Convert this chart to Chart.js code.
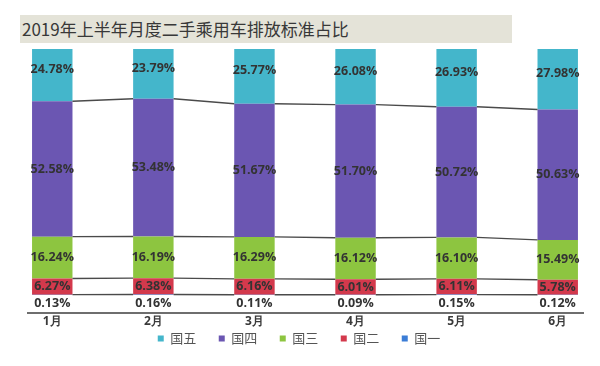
<!DOCTYPE html>
<html>
<head>
<meta charset="utf-8">
<script src="https://cdn.jsdelivr.net/npm/chart.js@4"></script>
<style>
  body { margin: 0; background: #fff; }
  #wrap { position: relative; width: 600px; height: 366px; }
  #title {
    position: absolute; left: 20px; top: 15px; width: 490px; height: 28px;
    padding-left: 2px; background: #e4e3d8; color: #383838;
    font: 17px "Noto Sans CJK SC", sans-serif; line-height: 28px;
  }
  canvas { position: absolute; left: 0; top: 0; }
</style>
</head>
<body>
<div id="wrap">
  <canvas id="c" width="600" height="366"></canvas>
  <div id="title">2019年上半年月度二手乘用车排放标准占比</div>
</div>
<script>
const months = ['1月', '2月', '3月', '4月', '5月', '6月'];
const guo5 = [24.78, 23.79, 25.77, 26.08, 26.93, 27.98];
const guo4 = [52.58, 53.48, 51.67, 51.70, 50.72, 50.63];
const guo3 = [16.24, 16.19, 16.29, 16.12, 16.10, 15.49];
const guo2 = [6.27, 6.38, 6.16, 6.01, 6.11, 5.78];
const guo1 = [0.13, 0.16, 0.11, 0.09, 0.15, 0.12];

(() => {
    const toPoints = arr => arr.map((v, i) => ({x: i, y: v}));

    // bottom to top
    const series = [
        {label: '国一', data: guo1, color: '#3b7dd6'},
        {label: '国二', data: guo2, color: '#d3394c'},
        {label: '国三', data: guo3, color: '#8dc540'},
        {label: '国四', data: guo4, color: '#6b56b2'},
        {label: '国五', data: guo5, color: '#44b6cb'}
    ];

    // Excel-like series lines + value labels
    const segLabels = {
        id: 'segLabels',
        afterLayout(chart) {
            // pull the legend row up closer to the axis labels
            chart.legend.top -= 9;
            chart.legend.bottom -= 9;
        },
        afterDatasetsDraw(chart) {
            const ctx = chart.ctx;
            const sets = chart.data.datasets;
            ctx.save();
            ctx.strokeStyle = '#4a4a4a';
            ctx.lineWidth = 1.4;
            for (let d = 0; d < sets.length - 1; d++) {
                const bars = chart.getDatasetMeta(d).data;
                for (let i = 0; i < bars.length - 1; i++) {
                    const a = bars[i], b = bars[i + 1];
                    ctx.beginPath();
                    ctx.moveTo(a.x + a.width / 2, a.y);
                    ctx.lineTo(b.x - b.width / 2, b.y);
                    ctx.stroke();
                }
            }
            ctx.font = 'bold 12.5px "Open Sans"';
            ctx.fillStyle = '#333';
            ctx.textAlign = 'center';
            ctx.textBaseline = 'middle';
            sets.forEach((ds, d) => {
                chart.getDatasetMeta(d).data.forEach((bar, i) => {
                    const txt = ds.data[i].y.toFixed(2) + '%';
                    const y = d === 0 ? bar.base + 8 : (bar.y + bar.base) / 2;
                    ctx.fillText(txt, bar.x, y);
                });
            });
            ctx.restore();
        }
    };

    new Chart(document.getElementById('c'), {
        type: 'bar',
        data: {
            datasets: series.map(s => ({
                label: s.label,
                data: toPoints(s.data),
                backgroundColor: s.color,
                borderWidth: 0,
                categoryPercentage: 1,
                barPercentage: 0.4,
                clip: 0
            }))
        },
        options: {
            responsive: false,
            animation: false,
            layout: {padding: {top: 49, left: 28, right: 17, bottom: 2}},
            scales: {
                x: {
                    type: 'linear',
                    stacked: true,
                    offset: false,
                    min: -0.24,
                    max: 5.25,
                    afterBuildTicks: axis => { axis.ticks = months.map((m, i) => ({value: i})); },
                    grid: {display: false, drawTicks: false, offset: false},
                    border: {display: true, color: '#6e6e6e', width: 2},
                    ticks: {
                        autoSkip: false,
                        maxRotation: 0,
                        padding: 8.5,
                        color: '#3a3a3a',
                        font: {family: '"Open Sans"', size: 12, weight: 'bold', lineHeight: '2px'},
                        callback: v => months[v]
                    }
                },
                y: {
                    stacked: true,
                    display: false,
                    min: -6.8,
                    max: 95.5
                }
            },
            plugins: {
                tooltip: {enabled: false},
                legend: {
                    position: 'bottom',
                    reverse: true,
                    labels: {
                        boxWidth: 6,
                        boxHeight: 6,
                        padding: 9.5,
                        color: '#555',
                        font: {family: '"Noto Sans CJK SC"', size: 13},
                        generateLabels: chart =>
                            Chart.defaults.plugins.legend.labels.generateLabels(chart)
                                .map(l => ({...l, text: l.text + '\u3000'}))
                    }
                }
            }
        },
        plugins: [segLabels]
    });
})();
</script>
</body>
</html>
